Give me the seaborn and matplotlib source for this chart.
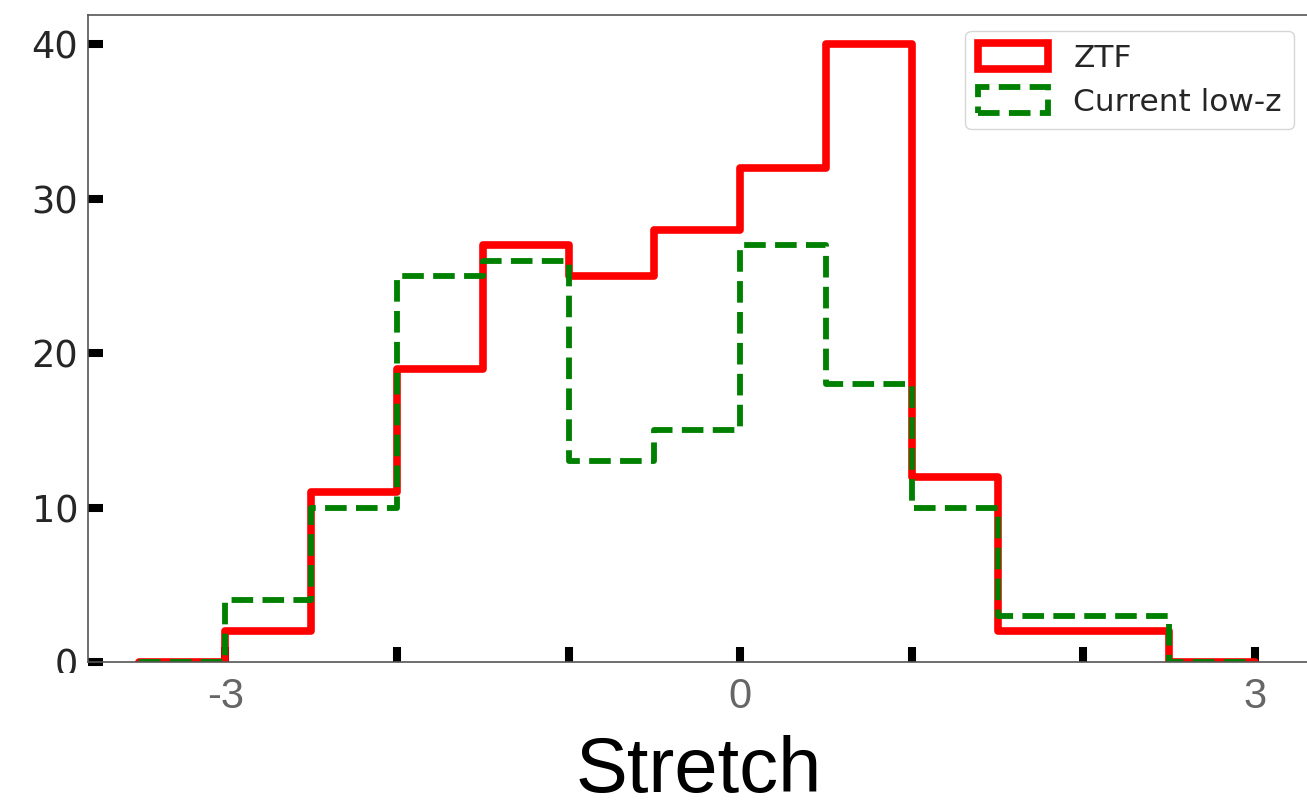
import numpy as np
import pandas as pd
import matplotlib
matplotlib.use("Agg")
import matplotlib.pyplot as plt
import seaborn as sns
from matplotlib.patches import Patch
from matplotlib.transforms import Bbox

# ---- data ----
bin_edges = [-3.5, -3.0, -2.5, -2.0, -1.5, -1.0, -0.5, 0.0, 0.5, 1.0, 1.5, 2.0, 2.5, 3.0]
ztf_counts = [0, 2, 11, 19, 27, 25, 28, 32, 40, 12, 2, 2, 0]
lowz_counts = [0, 4, 10, 25, 26, 13, 15, 27, 18, 10, 3, 3, 0]
series_labels = ["ZTF", "Current low-z"]
x_ticks = [-3, -2, -1, 0, 1, 2, 3]
x_tick_labels = ["-3", "", "", "0", "", "", "3"]
y_ticks = [0, 10, 20, 30, 40]
x_label = "Stretch"

centers = [(a + b) / 2 for a, b in zip(bin_edges[:-1], bin_edges[1:])]
df_ztf = pd.DataFrame({"stretch": centers, "n": ztf_counts})
df_lowz = pd.DataFrame({"stretch": centers, "n": lowz_counts})

sns.set_theme(style="white")
plt.rcParams["font.family"] = ["DejaVu Sans"]

W, H = 1307, 807
fig = plt.figure(figsize=(W / 100, H / 100), dpi=100)
ax = fig.add_axes([88 / W, (H - 662) / H, (1310 - 88) / W, (662 - 15) / H])

sns.histplot(data=df_ztf, x="stretch", weights="n", bins=bin_edges,
             element="step", fill=False, color="red", linewidth=5.5, ax=ax)
sns.histplot(data=df_lowz, x="stretch", weights="n", bins=bin_edges,
             element="step", fill=False, color="green", linewidth=4.2,
             linestyle="--", ax=ax)

ax.set_xlim(-3.8, 3.32)
ax.set_ylim(0, 41.9)
ax.set_ylabel("")

for s in ax.spines.values():
    s.set_color("#555555")
    s.set_linewidth(1.2)

ax.set_yticks(y_ticks)
ax.set_xticks(x_ticks)
ax.set_xticklabels(x_tick_labels)
ax.tick_params(axis="both", direction="in", length=10.8, width=5.8, color="black")
ax.tick_params(axis="y", left=True, labelsize=26.5, pad=7, labelcolor="#262626")
ax.tick_params(axis="x", bottom=True, labelsize=30, pad=11, labelcolor="#666666")
for lab in ax.get_xticklabels():
    lab.set_fontfamily(["Liberation Sans", "DejaVu Sans"])

clip = Bbox.from_extents(0, H - 673, W, H)
for lab in ax.get_yticklabels():
    lab.set_clip_box(clip)
    lab.set_clip_on(True)

ax.set_xlabel(x_label, fontsize=56, color="black",
              family=["Liberation Sans", "DejaVu Sans"], labelpad=13)

handles = [
    Patch(facecolor="none", edgecolor="red", linewidth=5.5, label=series_labels[0]),
    Patch(facecolor="none", edgecolor="green", linewidth=4.2, linestyle="--",
          label=series_labels[1]),
]
leg = ax.legend(handles=handles, loc="upper right", fontsize=22.5,
                frameon=True, fancybox=True, labelspacing=0.45,
                handlelength=2.25, handleheight=0.9)
leg.get_frame().set_edgecolor("#cccccc")
for t in leg.get_texts():
    t.set_color("#262626")

fig.savefig("out.png", dpi=100, facecolor="white")
